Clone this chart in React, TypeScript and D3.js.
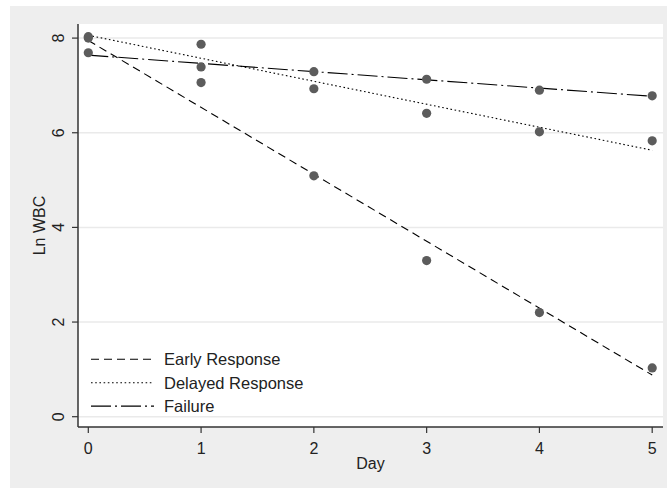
import React from "react";
import * as d3 from "d3";

const days = [0, 1, 2, 3, 4, 5];
const yTicks = [0, 2, 4, 6, 8];
const earlyMeans = [8.0, 7.06, 5.09, 3.3, 2.2, 1.03];
const delayedMeans = [8.03, 7.87, 6.93, 6.41, 6.02, 5.83];
const failureMeans = [7.69, 7.39, 7.29, 7.13, 6.9, 6.78];
// fitted line values at day 0 and day 5
const fitDays = [0, 5];
const earlyFit = [7.95, 0.88];
const delayedFit = [8.06, 5.63];
const failureFit = [7.64, 6.77];
const legendLabels = ["Early Response", "Delayed Response", "Failure"];

const W = 667;
const H = 490;
const font = "'Liberation Sans', Arial, sans-serif";

export default function App() {
  const x = d3.scaleLinear().domain([0, 5]).range([88.3, 652.2]);
  const y = d3.scaleLinear().domain([0, 8]).range([416.7, 38.1]);
  const plotL = 78, plotR = 663, plotT = 24, plotB = 427;
  const line = d3
    .line<[number, number]>()
    .x((d) => x(d[0]))
    .y((d) => y(d[1]));

  const series = [
    { fit: earlyFit, means: earlyMeans, dash: "8,5" },
    { fit: delayedFit, means: delayedMeans, dash: "1.6,2.6" },
    { fit: failureFit, means: failureMeans, dash: "20,4,2,4" },
  ];

  return (
    <svg
      width={W}
      height={H}
      style={{ position: "absolute", left: 0, top: 0, display: "block" }}
      fontFamily={font}
    >
      <rect x={0} y={0} width={W} height={H} fill="#ffffff" />
      <rect x={10} y={6} width={W - 10} height={482} fill="#eeeeee" />
      <rect x={plotL} y={plotT} width={plotR - plotL} height={plotB - plotT} fill="#ffffff" />
      {yTicks.map((t) => (
        <line key={"g" + t} x1={plotL} x2={plotR} y1={y(t)} y2={y(t)} stroke="#eaeaea" strokeWidth={1.5} />
      ))}
      {series.map((s, i) => (
        <path
          key={"f" + i}
          d={line(fitDays.map((d, j) => [d, s.fit[j]]) as [number, number][]) || ""}
          fill="none"
          stroke="#000"
          strokeWidth={1.1}
          strokeDasharray={s.dash}
        />
      ))}
      {series.map((s, i) =>
        s.means.map((v, j) => (
          <circle key={"p" + i + "-" + j} cx={x(days[j])} cy={y(v)} r={4.6} fill="#5c5c5c" />
        ))
      )}
      <line x1={plotL} x2={plotL} y1={plotT} y2={plotB} stroke="#333" strokeWidth={1.5} />
      <line x1={plotL} x2={plotR} y1={plotB} y2={plotB} stroke="#333" strokeWidth={1.5} />
      {yTicks.map((t) => (
        <g key={"yt" + t}>
          <line x1={plotL - 6} x2={plotL} y1={y(t)} y2={y(t)} stroke="#333" strokeWidth={1.2} />
          <text
            transform={`translate(63.5,${y(t)}) rotate(-90)`}
            textAnchor="middle"
            fontSize={16}
            fill="#222"
          >
            {t}
          </text>
        </g>
      ))}
      {days.map((d) => (
        <g key={"xt" + d}>
          <line x1={x(d)} x2={x(d)} y1={plotB} y2={plotB + 6} stroke="#333" strokeWidth={1.2} />
          <text x={x(d)} y={454} textAnchor="middle" fontSize={16} fill="#222">
            {d}
          </text>
        </g>
      ))}
      <text x={(plotL + plotR) / 2} y={469} textAnchor="middle" fontSize={16} fill="#222">
        Day
      </text>
      <text transform={`translate(45,${(plotT + plotB) / 2}) rotate(-90)`} textAnchor="middle" fontSize={16} fill="#222">
        Ln WBC
      </text>
      {legendLabels.map((lab, i) => {
        const ly = 359.3 + i * 23.4;
        return (
          <g key={"lg" + i}>
            <line x1={91} x2={154} y1={ly} y2={ly} stroke="#000" strokeWidth={1.1} strokeDasharray={series[i].dash} />
            <text x={164} y={ly + 5.8} fontSize={16.5} fill="#222">
              {lab}
            </text>
          </g>
        );
      })}
    </svg>
  );
}
